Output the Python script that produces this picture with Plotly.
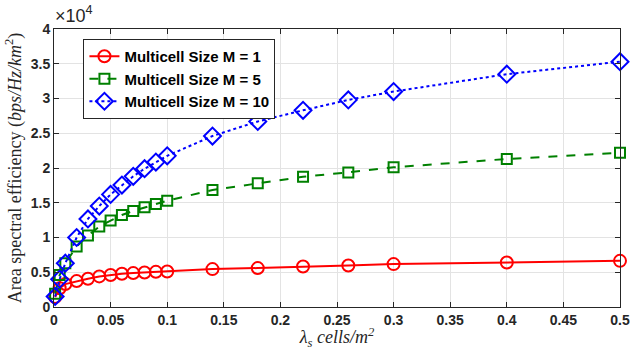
import plotly.graph_objects as go

lam = [0.001, 0.005, 0.01, 0.02, 0.03, 0.04, 0.05, 0.06, 0.07, 0.08, 0.09, 0.1,
       0.14, 0.18, 0.22, 0.26, 0.3, 0.4, 0.5]
ase_m1 = [1430, 2700, 3300, 3730, 4060, 4400, 4600, 4780, 4880, 4970, 5060, 5110,
          5450, 5600, 5830, 5970, 6170, 6400, 6640]
ase_m5 = [1900, 4600, 6300, 8700, 10300, 11570, 12430, 13240, 13820, 14350, 14820, 15300,
          16830, 17800, 18740, 19370, 20100, 21300, 22200]
ase_m10 = [1520, 4000, 6300, 10000, 12670, 14530, 16200, 17550, 18800, 19900, 20850, 21750,
           24600, 26700, 28300, 29800, 31000, 33500, 35300]
names = ["Multicell Size M = 1", "Multicell Size M = 5", "Multicell Size M = 10"]

x_ticks = [0, 0.05, 0.1, 0.15, 0.2, 0.25, 0.3, 0.35, 0.4, 0.45, 0.5]
x_ticktext = ["0", "0.05", "0.1", "0.15", "0.2", "0.25", "0.3", "0.35", "0.4", "0.45", "0.5"]
y_ticks = [0, 5000, 10000, 15000, 20000, 25000, 30000, 35000, 40000]
y_ticktext = ["0", "0.5", "1", "1.5", "2", "2.5", "3", "3.5", "4"]

fig = go.Figure()
styles = [
    dict(color="#ff0000", dash="solid", symbol="circle-open", size=12),
    dict(color="#008000", dash="dash", symbol="square-open", size=10),
    dict(color="#0000ff", dash="dot", symbol="diamond-open", size=13),
]
for ys, nm, st in zip([ase_m1, ase_m5, ase_m10], names, styles):
    fig.add_trace(go.Scatter(
        x=lam, y=ys, name="<b>" + nm + "</b>", mode="lines+markers", cliponaxis=False,
        line=dict(color=st["color"], width=2, dash=st["dash"]),
        marker=dict(symbol=st["symbol"], size=st["size"], color=st["color"],
                    line=dict(color=st["color"], width=2)),
    ))

axis_common = dict(
    showline=True, linecolor="#262626", linewidth=1, mirror="ticks",
    ticks="inside", ticklen=5, tickcolor="#262626", automargin=False,
    showgrid=True, gridcolor="#e3e3e3", gridwidth=1, zeroline=False,
    tickfont=dict(family="Liberation Sans", size=14, color="#262626"),
)
fig.update_xaxes(range=[0, 0.5], tickvals=x_ticks, ticktext=["<b>" + t + "</b>" for t in x_ticktext],
                 title=dict(text="<i>λ<sub>s</sub> cells/m<sup>2</sup></i>", standoff=6,
                            font=dict(family="Liberation Serif", size=18, color="#262626")),
                 **axis_common)
fig.update_yaxes(range=[0, 40000], tickvals=y_ticks, ticktext=["<b>" + t + "</b>" for t in y_ticktext],
                 title=dict(text="Area spectral efficiency (<i>bps/Hz/km</i><sup>2</sup>)", standoff=4,
                            font=dict(family="Liberation Serif", size=18, color="#262626")),
                 **axis_common)
fig.add_annotation(x=0, y=1, xref="paper", yref="paper", xanchor="left", yanchor="bottom",
                   text="×10<sup>4</sup>", showarrow=False, xshift=-1, yshift=1,
                   font=dict(family="Liberation Sans", size=18, color="#262626"))
fig.update_layout(
    width=631, height=350,
    margin=dict(l=54, r=11, t=29, b=43, autoexpand=False),
    paper_bgcolor="white", plot_bgcolor="white",
    legend=dict(x=0.052, y=0.964, xanchor="left", yanchor="top",
                bgcolor="white", bordercolor="#262626", borderwidth=1,
                font=dict(family="Liberation Sans", size=15, color="black"),
                tracegroupgap=0, itemwidth=30),
    showlegend=True,
)
fig.write_html("out.html")
